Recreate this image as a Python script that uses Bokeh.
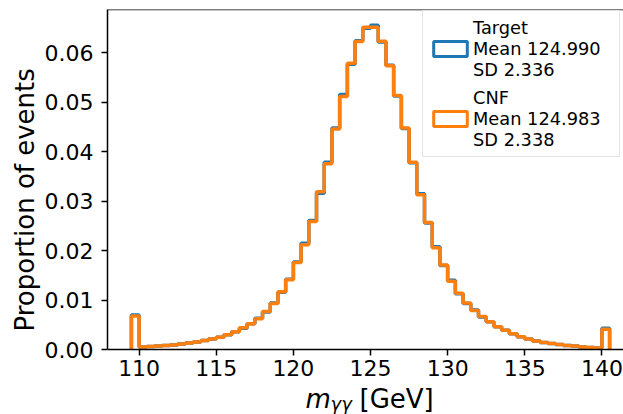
import numpy as np
from bokeh.plotting import figure
from bokeh.models import (Range1d, Legend, LegendItem, Span, Label, Title,
                          FixedTicker, NumeralTickFormatter)
from bokeh.embed import file_html
from bokeh.resources import INLINE

# ---- data ----
bin_start = 109.5
bin_width = 0.5
target = [0.0070,
          0.0005, 0.0006, 0.0007, 0.0008, 0.0009, 0.0011, 0.0013, 0.0015,
          0.0018, 0.0021, 0.0025, 0.0030, 0.0036, 0.0043, 0.0052, 0.0063,
          0.0076, 0.0094, 0.0116, 0.0142, 0.0177, 0.0215, 0.0261, 0.0316,
          0.0379, 0.0448, 0.0516, 0.0577, 0.0625, 0.0650, 0.0656, 0.0622,
          0.0575, 0.0513, 0.0447, 0.0378, 0.0315, 0.0256, 0.0208, 0.0170,
          0.0140, 0.0113, 0.0093, 0.0080, 0.0066, 0.0056, 0.0046, 0.0039,
          0.0032, 0.0026, 0.0021, 0.0017, 0.0014, 0.0012, 0.0010, 0.0008,
          0.0007, 0.0005, 0.0004, 0.0003,
          0.0043]
cnf = [0.0068,
       0.0005, 0.0006, 0.0007, 0.0008, 0.0009, 0.0011, 0.0013, 0.0015,
       0.0018, 0.0021, 0.0025, 0.0030, 0.0036, 0.0044, 0.0052, 0.0062,
       0.0077, 0.0093, 0.0117, 0.0141, 0.0176, 0.0212, 0.0259, 0.0319,
       0.0376, 0.0446, 0.0512, 0.0579, 0.0623, 0.0652, 0.0652, 0.0624,
       0.0574, 0.0514, 0.0448, 0.0379, 0.0313, 0.0257, 0.0206, 0.0171,
       0.0138, 0.0114, 0.0094, 0.0079, 0.0067, 0.0056, 0.0046, 0.0039,
       0.0032, 0.0026, 0.0021, 0.0017, 0.0014, 0.0012, 0.0010, 0.0008,
       0.0007, 0.0005, 0.0004, 0.0003,
       0.0041]
target_label = "Target\nMean 124.990\nSD 2.336"
cnf_label = "CNF\nMean 124.983\nSD 2.338"
x_ticks = [110, 115, 120, 125, 130, 135, 140]
y_ticks = [0.00, 0.01, 0.02, 0.03, 0.04, 0.05, 0.06]
y_label = "Proportion of events"
x_label_parts = ["m", "γγ", "[GeV]"]

edges = bin_start + bin_width * np.arange(len(target) + 1)


def step_xy(vals):
    xs = np.repeat(edges, 2)
    ys = np.concatenate([[0.0], np.repeat(np.asarray(vals), 2), [0.0]])
    return xs, ys


FONT = "DejaVu Sans"
BLUE = "#1f77b4"
ORANGE = "#ff7f0e"
Y_TOP = 0.0688
# frame runs to the bottom of the canvas; y=0 sits 65 px above it
Y_BOTTOM = -Y_TOP * 65.0 / 340.0

p = figure(width=623, height=414, output_backend="svg", toolbar_location=None,
           x_range=Range1d(107.95, 141.4), y_range=Range1d(Y_BOTTOM, Y_TOP),
           min_border_left=107, min_border_right=0, min_border_top=9,
           min_border_bottom=0)
p.outline_line_color = None
p.grid.visible = False
p.background_fill_color = "white"

xs, yt = step_xy(target)
_, yc = step_xy(cnf)
p.line(xs, yt, line_color=BLUE, line_width=3.5)
p.line(xs, yc, line_color=ORANGE, line_width=3.5)

# top spine
p.add_layout(Span(location=Y_TOP, dimension="width", line_color="black", line_width=1.5))

for ax in (p.xaxis, p.yaxis):
    ax.axis_line_color = "black"
    ax.axis_line_width = 1.5
    ax.major_tick_line_color = "black"
    ax.major_tick_line_width = 1.5
    ax.major_tick_out = 6
    ax.major_tick_in = 0
    ax.minor_tick_line_color = None
    ax.major_label_text_font = FONT
    ax.major_label_text_font_size = "22px"
    ax.major_label_text_color = "black"

p.xaxis.fixed_location = 0
p.yaxis.bounds = (0, Y_TOP)
p.xaxis.ticker = FixedTicker(ticks=x_ticks)
p.yaxis.ticker = FixedTicker(ticks=y_ticks)
p.yaxis.formatter = NumeralTickFormatter(format="0.00")
p.xaxis.major_label_standoff = 4
p.yaxis.major_label_standoff = 8

# y label as a left-side title, started 83 px above the canvas bottom
p.add_layout(Title(text=y_label, align="left", offset=83, standoff=4,
                   text_font=FONT, text_font_size="26px", text_font_style="normal",
                   text_color="black"), "left")

# x label: m_{γγ} [GeV]
for txt, xx, yy, size, style in [(x_label_parts[0], 198, 16, "26px", "italic"),
                                 (x_label_parts[1], 223, 11, "18px", "italic"),
                                 (x_label_parts[2], 252, 16, "26px", "normal")]:
    p.add_layout(Label(x=xx, y=yy, x_units="screen", y_units="screen", text=txt,
                       text_font=FONT, text_font_size=size, text_font_style=style,
                       text_color="black", text_baseline="alphabetic"))

# legend proxies (hollow rectangles, no visible data)
g1 = p.quad(left=[np.nan], right=[np.nan], top=[np.nan], bottom=[np.nan], fill_color=None,
            line_color=BLUE, line_width=3)
g2 = p.quad(left=[np.nan], right=[np.nan], top=[np.nan], bottom=[np.nan], fill_color=None,
            line_color=ORANGE, line_width=3)
legend = Legend(items=[LegendItem(label=target_label, renderers=[g1]),
                       LegendItem(label=cnf_label, renderers=[g2])],
                location=(315, 257), orientation="vertical",
                glyph_width=42, glyph_height=19, label_standoff=2,
                padding=6, spacing=7, margin=0, label_width=140,
                label_text_font=FONT, label_text_font_size="17.8px",
                label_text_color="black",
                label_text_line_height=1.12,
                border_line_color="#cccccc", border_line_width=1.2,
                background_fill_alpha=0.8)
p.add_layout(legend)

open("out.html", "w").write(file_html(p, INLINE))
